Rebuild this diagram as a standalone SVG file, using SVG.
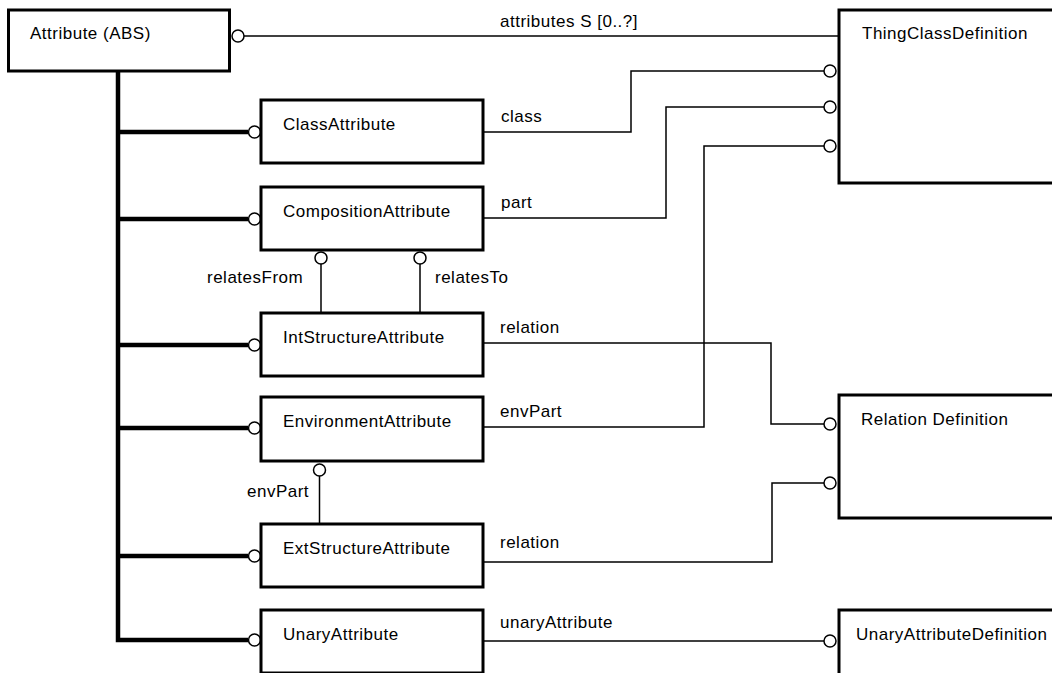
<svg xmlns="http://www.w3.org/2000/svg" width="1052" height="673" viewBox="0 0 1052 673">
<style>
.box{fill:#fff;stroke:#000;stroke-width:3}
.t{font-family:"Liberation Sans",Arial,sans-serif;font-size:17px;letter-spacing:0.5px;fill:#000}
.thin{fill:none;stroke:#000;stroke-width:1.5}
.thick{fill:none;stroke:#000;stroke-width:4.5;stroke-linejoin:miter}
.end{fill:#fff;stroke:#000;stroke-width:1.5}
</style>
<rect width="1052" height="673" fill="#fff"/>
<g id="connectors">
<path class="thick" d="M118 71 V640 H248 M118 132 H248 M118 219 H248 M118 345 H248 M118 428 H248 M118 556 H248"/>
<path class="thin" d="M244 36 H839"/>
<path class="thin" d="M483 132 H631 V71 H824"/>
<path class="thin" d="M483 218 H666 V107 H824"/>
<path class="thin" d="M483 427 H704 V146 H824"/>
<path class="thin" d="M483 343 H771 V424 H824"/>
<path class="thin" d="M483 562 H772 V483 H824"/>
<path class="thin" d="M483 641 H824"/>
<path class="thin" d="M321 264 V313"/>
<path class="thin" d="M420 264 V313"/>
<path class="thin" d="M319.5 476 V524"/>
<circle class="end" cx="238" cy="36" r="6"/>
<circle class="end" cx="254.5" cy="132" r="6"/>
<circle class="end" cx="254.5" cy="219" r="6"/>
<circle class="end" cx="254.5" cy="345" r="6"/>
<circle class="end" cx="254.5" cy="428" r="6"/>
<circle class="end" cx="254.5" cy="556" r="6"/>
<circle class="end" cx="254.5" cy="640" r="6"/>
<circle class="end" cx="830" cy="71" r="6"/>
<circle class="end" cx="830" cy="107" r="6"/>
<circle class="end" cx="830" cy="146" r="6"/>
<circle class="end" cx="830" cy="424" r="6"/>
<circle class="end" cx="830" cy="483" r="6"/>
<circle class="end" cx="830" cy="641" r="6"/>
<circle class="end" cx="321" cy="258" r="6"/>
<circle class="end" cx="420" cy="258" r="6"/>
<circle class="end" cx="319.5" cy="470" r="6"/>
<text class="t" x="500" y="27">attributes S [0..?]</text>
<text class="t" x="501" y="122">class</text>
<text class="t" x="501" y="208">part</text>
<text class="t" x="500" y="333">relation</text>
<text class="t" x="500" y="417">envPart</text>
<text class="t" x="500" y="548">relation</text>
<text class="t" x="500" y="628">unaryAttribute</text>
<text class="t" x="207" y="283">relatesFrom</text>
<text class="t" x="435" y="283">relatesTo</text>
<text class="t" x="247" y="497">envPart</text>
</g>
<g id="Attribute_ABS">
<rect class="box" x="8.5" y="10" width="221" height="61"/>
<text class="t" x="30" y="39">Attribute (ABS)</text>
</g>
<g id="ClassAttribute">
<rect class="box" x="261" y="100" width="222" height="63"/>
<text class="t" x="283" y="130">ClassAttribute</text>
</g>
<g id="CompositionAttribute">
<rect class="box" x="261" y="187" width="222" height="63"/>
<text class="t" x="283" y="217">CompositionAttribute</text>
</g>
<g id="IntStructureAttribute">
<rect class="box" x="261" y="313" width="222" height="63"/>
<text class="t" x="283" y="343">IntStructureAttribute</text>
</g>
<g id="EnvironmentAttribute">
<rect class="box" x="261" y="397" width="222" height="64"/>
<text class="t" x="283" y="427">EnvironmentAttribute</text>
</g>
<g id="ExtStructureAttribute">
<rect class="box" x="261" y="524" width="222" height="63"/>
<text class="t" x="283" y="554">ExtStructureAttribute</text>
</g>
<g id="UnaryAttribute">
<rect class="box" x="261" y="610" width="222" height="63"/>
<text class="t" x="283" y="640">UnaryAttribute</text>
</g>
<g id="ThingClassDefinition">
<rect class="box" x="839" y="10" width="300" height="173"/>
<text class="t" x="862" y="39">ThingClassDefinition</text>
</g>
<g id="RelationDefinition">
<rect class="box" x="839" y="395" width="300" height="123"/>
<text class="t" x="861" y="425">Relation Definition</text>
</g>
<g id="UnaryAttributeDefinition">
<rect class="box" x="839" y="610" width="300" height="80"/>
<text class="t" x="856" y="640">UnaryAttributeDefinition</text>
</g>
</svg>
